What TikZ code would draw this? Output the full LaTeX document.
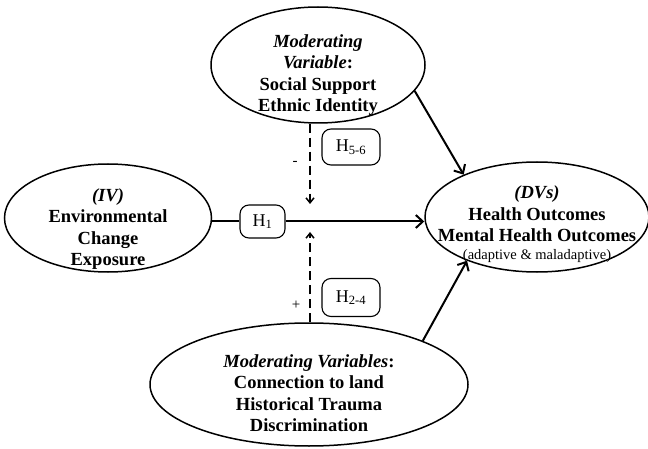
\documentclass[tikz,border=0pt]{standalone}
\usepackage{fontspec}
\setmainfont{Liberation Serif}
\usetikzlibrary{shapes.geometric,positioning,arrows.meta}

\begin{document}
\begin{tikzpicture}[
        x=1pt, y=-1pt,
        var/.style={draw, ellipse, line width=1.5pt, inner sep=0pt},
        vartxt/.style={align=center, font=\fontsize{18.5}{21.5}\selectfont\bfseries},
        hyp/.style={draw, rounded corners=9pt, line width=1.1pt, inner sep=0pt, font=\fontsize{18}{20}\selectfont},
        sign/.style={font=\fontsize{15}{16}\selectfont},
        main/.style={line width=2pt, -{Straight Barb[length=7pt,width=13pt,line width=2pt]}},
        mod/.style={line width=1.5pt, dash pattern=on 9pt off 5pt, -{Straight Barb[length=5pt,width=8pt,line width=1.5pt]}}
    ]
        \useasboundingbox (0,0) rectangle (648,449);
        % variables
        \node[var, minimum width=214, minimum height=116] (supp) at (318,65) {};
        \node[vartxt] at (318,75) {\textit{Moderating}\\\textit{Variable}:\\Social Support\\Ethnic Identity};
        \node[var, minimum width=207, minimum height=108] (iv) at (108,218) {};
        \node[vartxt] at (108,229) {\textit{(IV)}\\Environmental\\Change\\Exposure};
        \node[var, minimum width=224, minimum height=110] (dv) at (537,217) {};
        \node[vartxt] at (537,224) {\textit{(DVs)}\\Health Outcomes\\Mental Health Outcomes\\[-4pt]{\fontsize{14.5}{16}\selectfont\mdseries (adaptive \& maladaptive)}};
        \node[var, minimum width=318, minimum height=123] (land) at (309,384.5) {};
        \node[vartxt] at (309,393) {\textit{Moderating Variables}:\\Connection to land\\Historical Trauma\\Discrimination};
        % hypotheses
        \node[hyp, minimum width=45, minimum height=33] (h1) at (262.5,221.5) {H\textsubscript{1}};
        \node[hyp, minimum width=58, minimum height=36] (h56) at (351,147) {H\textsubscript{5-6}};
        \node[hyp, minimum width=58, minimum height=38] (h24) at (351,297.5) {H\textsubscript{2-4}};
        \node[sign] (neg) at (295,163) {-};
        \node[sign] (pos) at (296,305) {+};
        \coordinate (tdown) at (310,204);
        \coordinate (tup) at (310,232);
        % paths
        \draw[line width=2pt] (iv.east |- h1) -- (h1);
        \draw[main] (h1) -- (h1 -| dv.west);
        \draw[main] (supp.-15) -- (dv.150);
        \draw[main] (land.21) -- (dv.-148);
        \draw[mod] (supp.south -| tdown) -- (tdown);
        \draw[mod] (land.north -| tup) -- (tup);
    \end{tikzpicture}
\end{document}
